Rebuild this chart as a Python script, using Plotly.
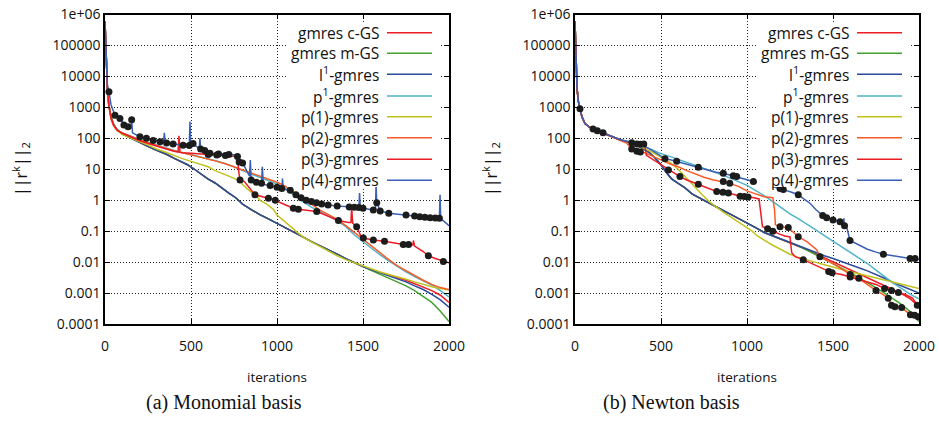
import plotly.graph_objects as go

# ---------------- data ----------------
names = ["gmres c-GS", "gmres m-GS", "l<sup>1</sup>-gmres", "p<sup>1</sup>-gmres",
         "p(1)-gmres", "p(2)-gmres", "p(3)-gmres", "p(4)-gmres"]
colors = ["#ee1c25", "#43a12f", "#2a4b9b", "#4fb3c8",
          "#c2c21f", "#f85a28", "#ec1c24", "#3a5fb5"]

y_tickvals = [1e-4, 1e-3, 1e-2, 1e-1, 1, 10, 100, 1000, 1e4, 1e5, 1e6]
y_ticktext = ["0.0001", "0.001", "0.01", "0.1", "1", "10", "100", "1000",
              "10000", "100000", "1e+06"]
x_tickvals = [0, 500, 1000, 1500, 2000]
captions = ["(a) Monomial basis", "(b) Newton basis"]

# ---- (a) Monomial basis ----
L_head_it = [0, 4, 8, 14, 22]
L_head_val = [6e5, 1e5, 2e4, 4000, 1200]

L_gm_it = [35, 50, 70, 100, 130, 160, 200, 240, 280, 320, 360, 400, 440, 480, 520, 560,
           600, 640, 680, 720, 760, 800, 850, 900, 950, 1000, 1050, 1100, 1150, 1200,
           1250, 1300, 1350, 1400, 1450, 1500, 1550, 1600, 1650, 1700, 1750, 1800, 1850,
           1900, 1950, 2000]
L_l1_val = [500, 280, 190, 140, 115, 95, 72, 58, 46, 38, 30, 23, 18, 14, 10, 7, 4.8, 3.6,
            2.4, 1.7, 1.2, 0.75, 0.5, 0.34, 0.25, 0.18, 0.13, 0.095, 0.065, 0.046, 0.033,
            0.024, 0.018, 0.013, 0.0095, 0.0072, 0.0056, 0.0045, 0.0036, 0.0029, 0.0023,
            0.0017, 0.0013, 0.0009, 0.0006, 0.00035]
L_cgs_val = [500, 280, 190, 140, 115, 95, 72, 58, 46, 38, 30, 23, 18, 14, 10, 7, 4.8, 3.6,
             2.4, 1.7, 1.2, 0.75, 0.5, 0.34, 0.25, 0.18, 0.13, 0.095, 0.065, 0.046, 0.033,
             0.024, 0.018, 0.013, 0.0095, 0.0072, 0.0056, 0.0047, 0.0039, 0.0032, 0.0026,
             0.002, 0.0016, 0.0012, 0.00085, 0.0005]
L_mgs_val = [500, 280, 190, 140, 115, 95, 72, 58, 46, 38, 30, 23, 18, 14, 10, 7, 4.8, 3.6,
             2.4, 1.7, 1.2, 0.75, 0.5, 0.34, 0.25, 0.18, 0.13, 0.095, 0.065, 0.046, 0.033,
             0.024, 0.018, 0.013, 0.0095, 0.0072, 0.0053, 0.004, 0.003, 0.0023, 0.0017,
             0.0012, 0.0008, 0.0005, 0.00026, 0.00012]

L_p1a_it = [35, 50, 70, 100, 150, 200, 250, 300, 350, 400, 450, 500, 550, 600, 650, 700,
            750, 800, 850, 900, 950, 1000, 1050, 1100, 1150, 1200, 1250, 1300, 1350, 1400,
            1450, 1500, 1550, 1600, 1650, 1700, 1750, 1800, 1850, 1900, 1950, 2000]
L_p1s_val = [450, 270, 190, 150, 115, 92, 74, 60, 50, 41, 35, 30, 26, 22, 18.5, 15, 12, 9,
             7, 5.5, 4.3, 3.3, 2.3, 1.4, 0.9, 0.6, 0.42, 0.3, 0.22, 0.14, 0.075, 0.045,
             0.028, 0.017, 0.011, 0.0072, 0.0048, 0.0034, 0.0025, 0.0018, 0.0012, 0.00075]
L_pp2_val = [420, 250, 180, 150, 115, 90, 72, 58, 48, 40, 34, 29, 25, 22, 18, 15, 12, 9.5,
             7.5, 6, 4.8, 3.8, 2.8, 1.8, 1.1, 0.7, 0.48, 0.34, 0.24, 0.15, 0.09, 0.055,
             0.032, 0.019, 0.012, 0.0075, 0.0052, 0.0038, 0.0026, 0.0019, 0.0015, 0.0013]

L_pp1_it = [35, 50, 70, 100, 150, 200, 250, 300, 350, 400, 450, 500, 550, 600, 640, 680,
            720, 760, 790, 800, 830, 860, 880, 900, 940, 980, 1000, 1040, 1080, 1120, 1160,
            1200, 1250, 1300, 1350, 1400, 1450, 1500, 1550, 1600, 1650, 1700, 1750, 1800,
            1850, 1900, 1950, 2000]
L_pp1_val = [480, 260, 180, 135, 100, 78, 60, 45, 36, 28, 22, 18, 15, 12, 9, 7.5, 6, 4.8,
             4.2, 3.2, 2.2, 1.6, 1.4, 1.0, 0.75, 0.5, 0.33, 0.22, 0.14, 0.09, 0.06, 0.045,
             0.032, 0.022, 0.016, 0.012, 0.0095, 0.0075, 0.006, 0.0048, 0.004, 0.0034,
             0.0028, 0.0023, 0.0019, 0.0016, 0.0014, 0.00125]

L_pp3_it = [35, 50, 70, 100, 150, 200, 250, 300, 350, 400, 425, 430, 436, 450, 500, 550,
            600, 650, 700, 770, 778, 785, 810, 840, 872, 950, 990, 1050, 1095, 1124, 1200,
            1231, 1300, 1357, 1415, 1430, 1434, 1440, 1463, 1490, 1502, 1560, 1625, 1700,
            1734, 1765, 1790, 1793, 1800, 1850, 1880, 1920, 1967, 2000]
L_pp3_val = [460, 270, 185, 145, 110, 85, 68, 55, 45, 38, 36, 120, 35, 34, 33, 31, 30, 29,
             28, 26, 8, 4.5, 4.0, 2.5, 1.5, 1.15, 1.0, 0.7, 0.55, 0.51, 0.46, 0.43, 0.3,
             0.22, 0.19, 0.19, 0.6, 0.18, 0.14, 0.065, 0.06, 0.052, 0.047, 0.04, 0.037,
             0.037, 0.036, 0.05, 0.033, 0.022, 0.016, 0.013, 0.0105, 0.0095]
L_pp3_dots = [600, 650, 700, 770, 785, 872, 950, 990, 1095, 1124, 1231, 1357, 1463, 1502,
              1560, 1625, 1734, 1765, 1880, 1967]

L_pp4_it = [0, 4, 8, 14, 23, 35, 58, 87, 110, 134, 150, 155, 160, 203, 241, 280, 320, 340,
            345, 350, 358, 396, 454, 490, 494, 498, 512, 548, 552, 556, 580, 610, 660, 720,
            770, 780, 800, 840, 845, 850, 880, 910, 915, 920, 960, 1000, 1028, 1032, 1036,
            1077, 1082, 1086, 1110, 1140, 1170, 1200, 1230, 1260, 1297, 1350, 1420, 1450,
            1476, 1480, 1484, 1500, 1530, 1560, 1572, 1576, 1580, 1600, 1650, 1700, 1750,
            1800, 1830, 1860, 1890, 1920, 1944, 1948, 1952, 1975, 2000]
L_pp4_val = [6e5, 1e5, 2e4, 5000, 3200, 1200, 560, 440, 270, 235, 220, 400, 150, 112, 100,
             85, 78, 74, 150, 72, 70, 65, 60, 58, 350, 70, 68, 46, 100, 45, 40, 33, 31, 30,
             29, 17, 16, 6, 20, 4.5, 3.8, 3.5, 12, 3.3, 3.0, 2.6, 2.4, 5, 2.3, 2.1, 4, 1.9,
             1.5, 1.2, 1.0, 0.9, 0.82, 0.75, 0.7, 0.65, 0.6, 0.59, 0.58, 1.7, 0.56, 0.55,
             0.5, 0.48, 0.47, 3.1, 0.83, 0.45, 0.38, 0.35, 0.33, 0.31, 0.29, 0.28, 0.27,
             0.265, 0.26, 1.5, 0.25, 0.2, 0.15]
L_pp4_dots = [23, 58, 87, 110, 134, 155, 203, 241, 280, 320, 358, 396, 454, 490, 512, 556,
              580, 610, 660, 720, 780, 800, 850, 880, 910, 960, 1000, 1028, 1077, 1110,
              1140, 1170, 1200, 1230, 1260, 1297, 1350, 1420, 1450, 1476, 1500, 1560, 1580,
              1600, 1650, 1750, 1800, 1830, 1860, 1890, 1920, 1944]

# ---- (b) Newton basis ----
R_head_it = [0, 3, 6, 12, 20, 29, 40, 58, 80, 105, 130, 163, 200, 262]
R_head_val = [6e5, 1e5, 2e4, 4000, 1500, 900, 500, 300, 240, 200, 175, 150, 125, 90]

R_gm_it = [300, 350, 400, 430, 460, 500, 530, 560, 600, 640, 680, 720, 760, 800, 850, 900,
           950, 1000, 1050, 1100, 1150, 1200, 1250, 1300, 1350, 1400, 1450, 1500, 1550,
           1600, 1650, 1700, 1750, 1800, 1850, 1900, 1950, 2000]
R_l1_val = [78, 65, 45, 35, 25, 14, 8, 5, 3.5, 2.5, 1.6, 1.2, 0.9, 0.7, 0.5, 0.36, 0.26,
            0.19, 0.13, 0.09, 0.07, 0.055, 0.042, 0.033, 0.026, 0.02, 0.016, 0.013, 0.0105,
            0.0085, 0.0066, 0.0052, 0.004, 0.003, 0.0022, 0.0017, 0.0013, 0.001]
R_cgs_val = [78, 65, 45, 35, 25, 14, 8, 5, 3.5, 2.5, 1.6, 1.2, 0.9, 0.7, 0.5, 0.36, 0.26,
             0.19, 0.13, 0.09, 0.07, 0.055, 0.042, 0.033, 0.025, 0.0185, 0.0138, 0.0102,
             0.0076, 0.0057, 0.0043, 0.0032, 0.0024, 0.0018, 0.0013, 0.00095, 0.00065,
             0.00036]
R_mgs_val = [78, 65, 45, 35, 25, 14, 8, 5, 3.5, 2.5, 1.6, 1.2, 0.9, 0.7, 0.5, 0.36, 0.26,
             0.19, 0.13, 0.09, 0.07, 0.055, 0.042, 0.033, 0.024, 0.0175, 0.0125, 0.009,
             0.0064, 0.0046, 0.0032, 0.0022, 0.0015, 0.001, 0.00065, 0.00042, 0.00025,
             0.00012]

R_p1s_it = [300, 350, 400, 450, 500, 550, 600, 650, 700, 750, 800, 850, 900, 950, 1000,
            1050, 1100, 1150, 1200, 1250, 1300, 1350, 1400, 1450, 1500, 1550, 1600, 1650,
            1700, 1750, 1800, 1850, 1900, 1950, 2000]
R_p1s_val = [82, 68, 55, 42, 32, 26, 21, 17, 13.5, 11, 8.5, 6.8, 5.3, 4, 3, 2.1, 1.4, 0.9,
             0.55, 0.36, 0.25, 0.17, 0.11, 0.072, 0.048, 0.032, 0.021, 0.014, 0.009, 0.0055,
             0.0033, 0.0021, 0.0014, 0.0009, 0.00065]

R_pp1_it = [300, 350, 400, 450, 500, 550, 600, 650, 700, 740, 780, 820, 860, 900, 950, 1000,
            1030, 1060, 1100, 1150, 1200, 1250, 1300, 1350, 1400, 1450, 1500, 1550, 1600,
            1650, 1700, 1750, 1800, 1850, 1900, 1950, 2000]
R_pp1_val = [80, 62, 48, 35, 25, 17, 10, 5, 2.5, 1.5, 0.9, 0.6, 0.42, 0.3, 0.2, 0.13, 0.1,
             0.07, 0.05, 0.035, 0.025, 0.018, 0.014, 0.012, 0.0098, 0.0082, 0.0068, 0.0058,
             0.0049, 0.0042, 0.0036, 0.0031, 0.0026, 0.0022, 0.0019, 0.0016, 0.0014]

R_pp2_it = [300, 330, 360, 380, 400, 450, 500, 550, 600, 650, 700, 750, 800, 862, 900, 950,
            1000, 1050, 1100, 1150, 1160, 1165, 1192, 1240, 1270, 1298, 1350, 1405, 1424,
            1470, 1500, 1550, 1600, 1650, 1700, 1750, 1790, 1821, 1840, 1860, 1899, 1920,
            1950, 1975, 1995, 2000]
R_pp2_val = [70, 45, 38, 36, 35, 27, 20, 15, 12, 9, 7, 5.5, 4.6, 4.0, 3.5, 2.8, 2.0, 1.6,
             1.3, 1.2, 0.5, 0.16, 0.14, 0.13, 0.09, 0.066, 0.045, 0.025, 0.015, 0.011, 0.009,
             0.006, 0.004, 0.003, 0.0019, 0.0012, 0.0009, 0.00068, 0.0004, 0.00036, 0.00034,
             0.00028, 0.0002, 0.00019, 0.00017, 0.00017]
R_pp2_dots = [330, 360, 380, 862, 900, 1192, 1240, 1298, 1424, 1600, 1650, 1750, 1821, 1840,
              1860, 1899, 1950, 1975, 1995]

R_pp3_it = [300, 330, 360, 380, 400, 405, 415, 450, 500, 543, 580, 610, 650, 700, 717, 760,
            824, 860, 892, 930, 960, 985, 1006, 1040, 1070, 1080, 1090, 1120, 1150, 1190,
            1220, 1250, 1260, 1280, 1327, 1400, 1475, 1495, 1550, 1600, 1650, 1700, 1750,
            1800, 1840, 1880, 1920, 1960, 1990, 2000]
R_pp3_val = [78, 72, 66, 64, 65, 62, 28, 21, 14, 9.5, 7.2, 5.8, 4.5, 3.5, 3.3, 2.6, 1.9,
             1.8, 1.7, 1.5, 1.35, 1.32, 1.28, 1.2, 1.1, 0.3, 0.14, 0.12, 0.1, 0.08, 0.07,
             0.065, 0.02, 0.015, 0.012, 0.008, 0.005, 0.0045, 0.004, 0.0033, 0.0028, 0.0023,
             0.0019, 0.0014, 0.0012, 0.00105, 0.0009, 0.0007, 0.0004, 0.00036]
R_pp3_dots = [330, 360, 380, 400, 543, 610, 717, 824, 860, 892, 960, 985, 1006, 1120, 1150,
              1327, 1475, 1495, 1600, 1800, 1840, 1880, 1990]

R_pp4_it = [300, 350, 400, 450, 500, 523, 560, 591, 650, 717, 780, 820, 862, 900, 920, 940,
            990, 1037, 1100, 1150, 1192, 1211, 1260, 1298, 1330, 1366, 1400, 1440, 1463,
            1500, 1541, 1560, 1563, 1567, 1580, 1599, 1650, 1700, 1750, 1793, 1850, 1900,
            1948, 1977, 2000]
R_pp4_val = [80, 68, 58, 40, 26, 22, 20, 18, 14, 11.5, 9, 8, 7.4, 6.5, 6.2, 5.8, 4.8, 4,
             3.2, 2.8, 2.4, 2.2, 1.8, 1.5, 1.1, 0.8, 0.5, 0.32, 0.27, 0.23, 0.2, 0.19, 0.26,
             0.15, 0.13, 0.05, 0.035, 0.026, 0.021, 0.018, 0.016, 0.0145, 0.013, 0.013, 0.012]
R_pp4_dots = [29, 105, 130, 163, 523, 591, 717, 862, 920, 940, 1037, 1192, 1211, 1298, 1440,
              1463, 1500, 1541, 1567, 1599, 1793, 1948, 1977]

# ---------------- build series ----------------
left = [
    (L_head_it + L_gm_it, L_head_val + L_cgs_val, []),
    (L_head_it + L_gm_it, L_head_val + L_mgs_val, []),
    (L_head_it + L_gm_it, L_head_val + L_l1_val, []),
    (L_head_it + L_p1a_it, L_head_val + L_p1s_val, []),
    (L_head_it + L_pp1_it, L_head_val + L_pp1_val, []),
    (L_head_it + L_p1a_it, L_head_val + L_pp2_val, []),
    (L_head_it + L_pp3_it, L_head_val + L_pp3_val, L_pp3_dots),
    (L_pp4_it, L_pp4_val, L_pp4_dots),
]
right = [
    (R_head_it + R_gm_it, R_head_val + R_cgs_val, []),
    (R_head_it + R_gm_it, R_head_val + R_mgs_val, []),
    (R_head_it + R_gm_it, R_head_val + R_l1_val, []),
    (R_head_it + R_p1s_it, R_head_val + R_p1s_val, []),
    (R_head_it + R_pp1_it, R_head_val + R_pp1_val, []),
    (R_head_it + R_pp2_it, R_head_val + R_pp2_val, R_pp2_dots),
    (R_head_it + R_pp3_it, R_head_val + R_pp3_val, R_pp3_dots),
    (R_head_it + R_pp4_it, R_head_val + R_pp4_val, R_pp4_dots),
]

W, H = 939, 422
PX0 = [105, 575]
PX1 = [449, 919]
PY0, PY1 = 14.5, 324.0
FONT = "Open Sans"
TXT = "#111111"

fig = go.Figure()
for p, panel in enumerate([left, right]):
    xa = "x" if p == 0 else "x2"
    ya = "y" if p == 0 else "y2"
    for k, (its, vals, _) in enumerate(panel):
        fig.add_trace(go.Scatter(x=its, y=vals, mode="lines", name=names[k],
                                 line=dict(color=colors[k], width=1.5),
                                 xaxis=xa, yaxis=ya, showlegend=False, hoverinfo="skip"))
    for its, vals, dots in panel:
        if dots:
            fig.add_trace(go.Scatter(x=dots, y=[vals[its.index(d)] for d in dots],
                                     mode="markers",
                                     marker=dict(color="#1c1c1c", size=7),
                                     xaxis=xa, yaxis=ya, showlegend=False,
                                     hoverinfo="skip"))

axis_common = dict(showline=True, linecolor="black", linewidth=1.5, mirror="allticks",
                   ticks="inside", ticklen=5, tickwidth=1, tickcolor="black",
                   showgrid=True, gridcolor="#222222", griddash="1px,2px", gridwidth=1,
                   zeroline=False, automargin=False,
                   tickfont=dict(family=FONT, size=14, color=TXT))

ydom = [1 - PY1 / H, 1 - PY0 / H]
for p in range(2):
    sx = "" if p == 0 else "2"
    fig.update_layout(**{
        "xaxis" + sx: dict(axis_common, domain=[PX0[p] / W, PX1[p] / W], range=[0, 2000],
                           tickvals=x_tickvals, anchor="y" + sx, ticklabelstandoff=8),
        "yaxis" + sx: dict(axis_common, domain=ydom, type="log", range=[-4, 6],
                           tickvals=y_tickvals, ticktext=y_ticktext, anchor="x" + sx),
    })

annotations = []
shapes = []
legend_rows = [32.7, 53.3, 74.3, 96.0, 116.7, 137.7, 159.3, 180.3]
for p in range(2):
    off = PX0[p] - PX0[0]
    # opaque key box (gnuplot "key opaque")
    shapes.append(dict(type="rect", xref="paper", yref="paper",
                       x0=(287 + off) / W, x1=(441 + off) / W,
                       y0=1 - 187 / H, y1=1 - 22 / H,
                       fillcolor="white", line=dict(width=0), layer="above"))
for p in range(2):
    off = PX0[p] - PX0[0]
    for k in range(8):
        yy = 1 - legend_rows[k] / H
        annotations.append(dict(x=(381 + off) / W, y=yy, xref="paper", yref="paper",
                                xanchor="right", yanchor="middle", showarrow=False,
                                text=names[k], font=dict(family=FONT, size=15.5, color=TXT)))
        shapes.append(dict(type="line", xref="paper", yref="paper",
                           x0=(387 + off) / W, x1=(432 + off) / W, y0=yy, y1=yy,
                           line=dict(color=colors[k], width=1.5), layer="above"))
    cx = (PX0[p] + PX1[p]) / 2
    annotations.append(dict(x=cx / W, y=1 - 377 / H, xref="paper", yref="paper",
                            xanchor="center", yanchor="middle",
                            showarrow=False, text="iterations",
                            font=dict(family=FONT, size=13.5, color=TXT)))
    annotations.append(dict(x=(20 + off) / W, y=1 - 169 / H, xref="paper", yref="paper",
                            xanchor="center", yanchor="middle",
                            showarrow=False, textangle=-90,
                            text="||r<sup>k</sup>||<sub>2</sub>",
                            font=dict(family=FONT, size=16, color=TXT)))
    annotations.append(dict(x=[224, 671][p] / W, y=1 - 402 / H, xref="paper", yref="paper",
                            xanchor="center", yanchor="middle",
                            showarrow=False, text=captions[p],
                            font=dict(family="Liberation Serif", size=20, color=TXT)))

fig.update_layout(width=W, height=H, margin=dict(l=0, r=0, t=0, b=0),
                  paper_bgcolor="white", plot_bgcolor="white",
                  annotations=annotations, shapes=shapes, showlegend=False)

fig.write_html("out.html", config={"displayModeBar": False},
               post_script="document.body.style.margin='0';document.body.style.padding='0';")
